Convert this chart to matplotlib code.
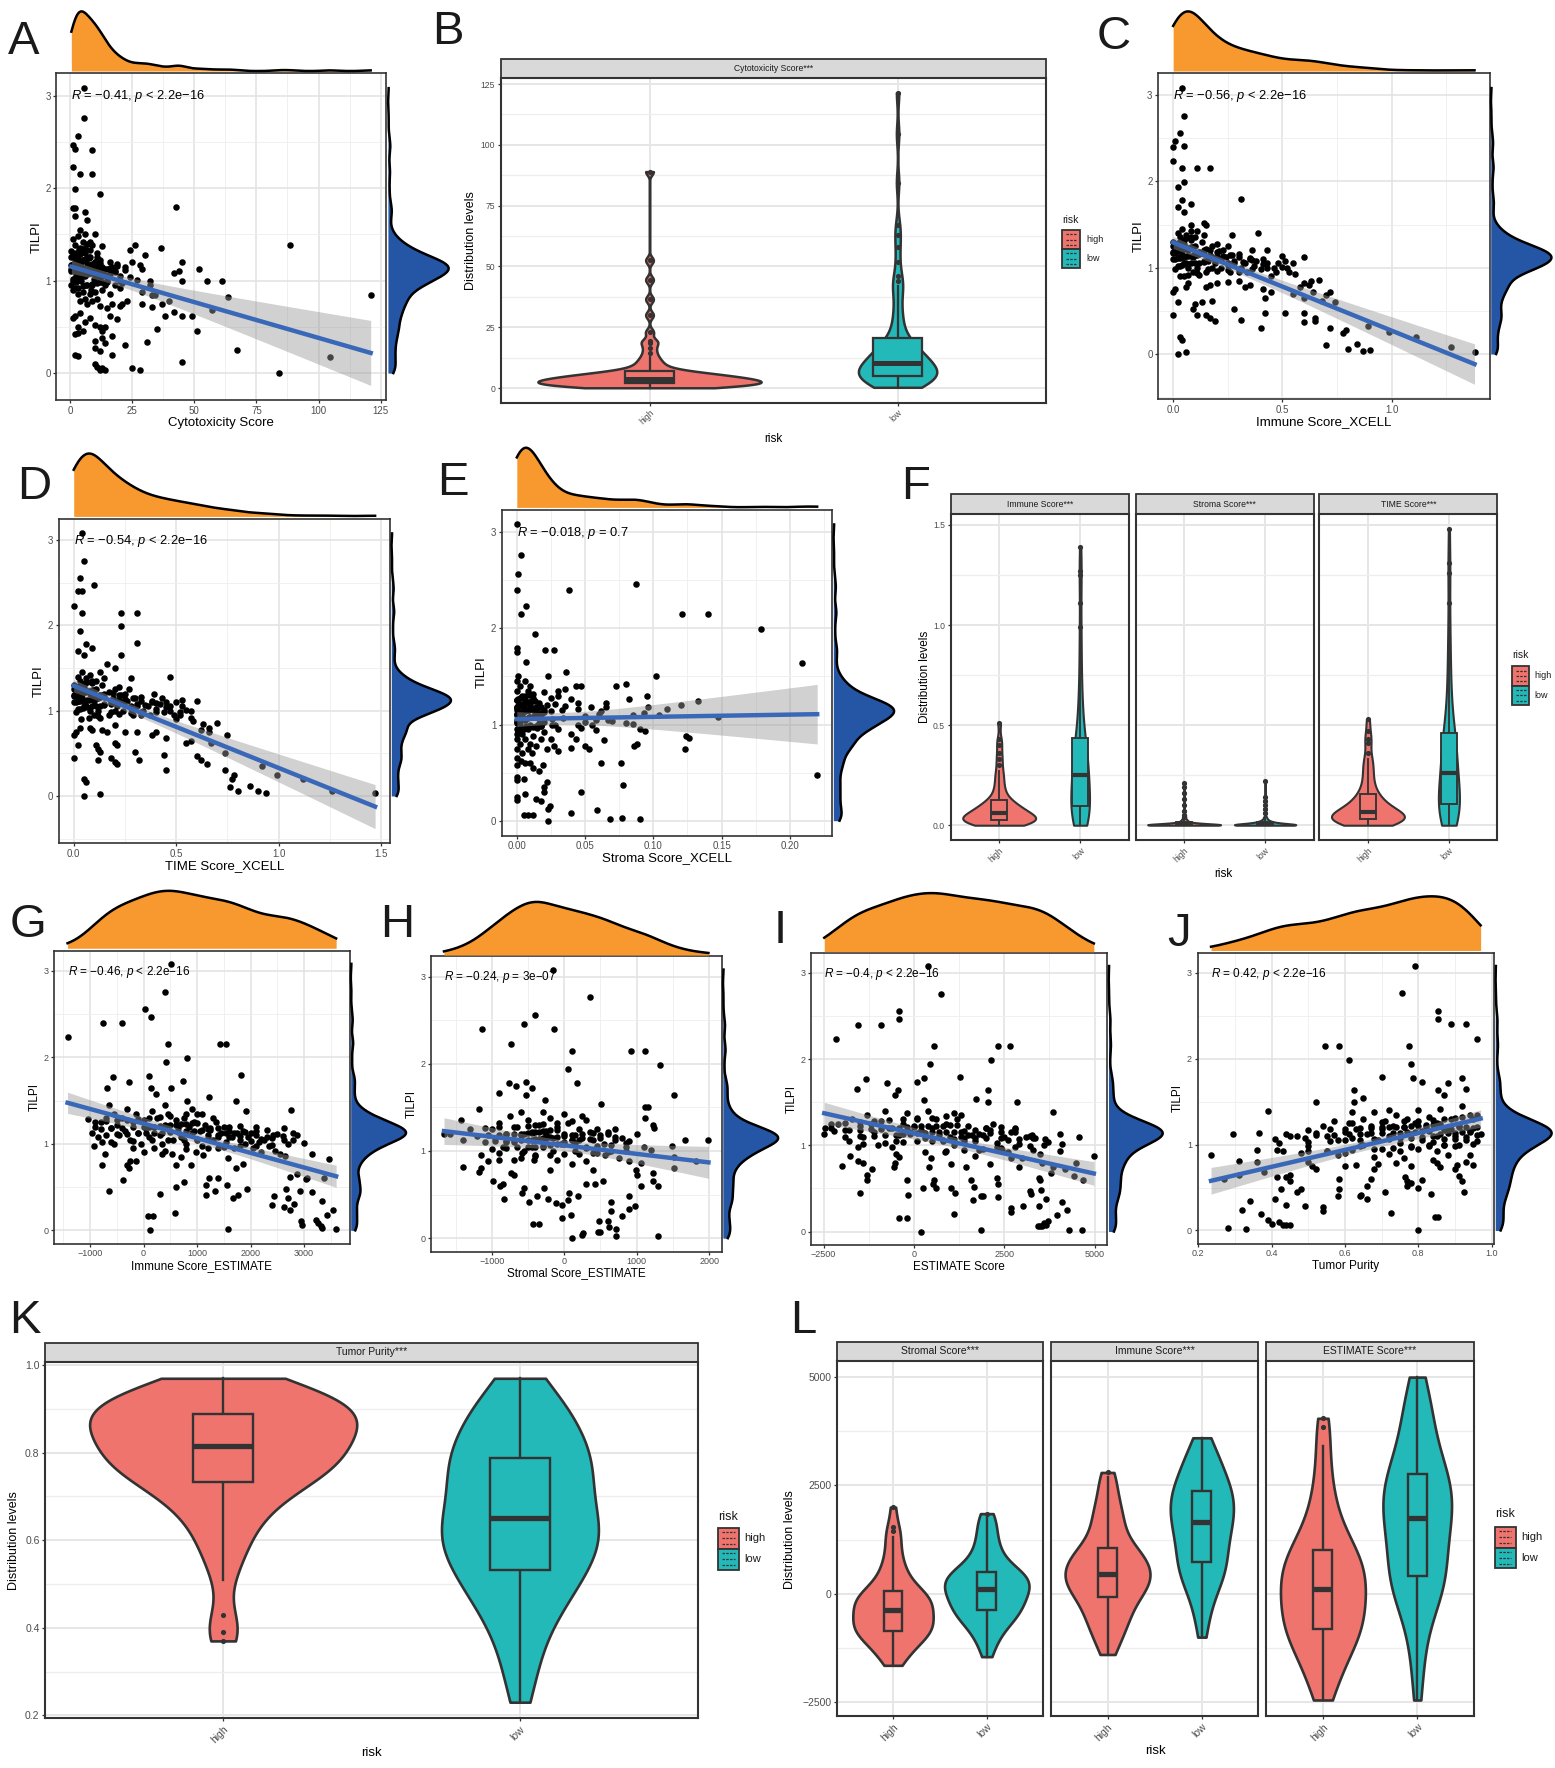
import numpy as np
import matplotlib.pyplot as plt
from matplotlib.patches import Rectangle

plt.rcParams['font.family'] = ['Liberation Sans', 'DejaVu Sans']
plt.rcParams['mathtext.fontset'] = 'custom'
plt.rcParams['mathtext.rm'] = 'Liberation Sans'
plt.rcParams['mathtext.it'] = 'Liberation Sans:italic'

# layout is measured in pixels on a 1379x1568 copy of the figure
W, H = 1379.0, 1568.0

HIGH_COL = '#F0746E'
LOW_COL = '#22B9B8'
ORANGE = '#F7992F'
BLUE = '#2456A5'
LINE_BLUE = '#3A68B8'
DARK = '#333333'
TICK_GREY = '#4D4D4D'

# ---------------- scatter data (x score, TILPI) ----------------
# points outside the dense cloud, read per panel
a_pts = [(5.5,3.08),(5.5,2.76),(3,2.56),(1,2.47),(2,2.42),(9,2.41),(1,2.23),(4,2.15),(9,2.15),(2,1.99),
         (12,1.94),(42.5,1.8),(1,1.78),(2,1.78),(6,1.74),(2,1.7),(7,1.65),(88.5,1.38),(121,0.84),(104.5,0.17),
         (84,0.0),(67,0.25),(63.5,0.82),(61,1.0),(55,1.0),(52,1.13),(57,0.68),(49,0.62),(51,0.45),(45,1.2),
         (44,1.1),(42,1.08),(45,1.0),(45,0.62),(42,0.66),(36.5,1.35),(30,1.28),(26,1.38),(24,1.33),(25,1.2),
         (28,1.17),(29,1.12),(32,1.0),(32,0.95),(29,0.88),(33,0.84),(34,0.84),(29,0.75),(33,0.71),(37,0.75),
         (38,0.62),(40,0.78),(35,0.48),(31,0.34),(45,0.12),(25,0.06),(28,0.03),(22,0.3),(17,0.2),(14,0.03),
         (12,0.03),(10,0.1),(11,0.07),(13,0.06),(3,0.18),(2,0.2),(2,0.42),(3,0.43),(3,0.5),(5,0.45),
         (6,0.55),(8,0.6),(10,0.52),(12,0.5),(13,0.45),(14,0.5),(13,0.38),(14,0.33),(10,0.35),(10,0.27),
         (12,0.24),(17,0.4),(19,0.58),(17,0.75),(21,0.75),(23,0.78),(20,0.72),(15,0.7),(1,0.6),(2,0.62),
         (4,0.65),(16,0.62),(14,0.95),(18,0.95),(20,0.92),(22,1.15),(19,1.18),(16,1.2),(17,1.13),(13,1.37),
         (10,1.5),(8,1.42),
         (0.5,1.25),(1,1.3),(1.5,1.15),(2,1.2),(2.5,1.05),(3,1.28),(3.5,1.1),(4,1.35),(4.5,1.0),(5,1.22),
         (5.5,1.12),(6,1.3),(6.5,0.95),(7,1.18),(7.5,1.08),(8,1.25),(8.5,0.9),(9,1.15),(9.5,1.02),(10,1.2),
         (11,1.1),(12,0.98),(13,1.15),(14,1.05),(1,1.0),(2,0.92),(3,0.85),(4,0.78),(5,0.88),(6,0.8),
         (7,0.75),(8,0.85),(9,0.78),(10,0.88),(11,0.8),(12,0.72),(1,1.45),(2,1.38),(3,1.48),(4,1.55),
         (5,1.42),(6,1.5),(7,1.4),(8,1.33),(9,1.38),(11,1.3),(1.5,1.1),(3,1.02),(4.5,1.16),(6,1.05),
         (7.5,1.25),(9,0.95),(10.5,1.05),(12,1.22),(0.5,0.95),(0.5,1.12),(2.5,0.98),(5,1.08),(8,1.12),(11,1.25),
         (13,0.9),(15,1.0),(16,0.85),(18,1.1),(20,1.05),(21,0.97)]

c_pts = [(0.04,3.08),(0.05,2.76),(0.03,2.56),(0.01,2.47),(0.0,2.4),(0.05,2.41),(0.0,2.23),(0.04,2.15),(0.11,2.15),(0.17,2.15),
         (0.05,1.99),(0.02,1.94),(0.31,1.8),(0.04,1.78),(0.08,1.74),(0.02,1.7),(0.05,1.65),(0.39,1.4),(0.27,1.38),(0.14,1.52),
         (0.15,1.5),(0.11,1.42),(0.08,1.5),(0.6,1.12),(0.5,1.13),(0.51,1.08),(0.43,1.2),(0.55,1.05),(0.46,1.0),(0.53,0.95),
         (0.56,0.93),(0.6,0.82),(0.63,0.85),(0.67,0.86),(0.62,0.8),(0.58,0.78),(0.64,0.72),(0.7,0.68),(0.72,0.72),(0.74,0.6),
         (0.68,0.62),(0.6,0.65),(0.55,0.7),(0.45,0.72),(0.42,0.65),(0.41,0.75),(0.35,0.8),(0.33,0.78),(0.3,0.85),(0.25,0.83),
         (0.2,0.82),(0.17,0.8),(0.15,0.78),(0.18,0.62),(0.13,0.6),(0.1,0.58),(0.09,0.52),(0.11,0.45),(0.15,0.45),(0.17,0.42),
         (0.19,0.38),(0.28,0.52),(0.31,0.4),(0.42,0.48),(0.51,0.48),(0.6,0.47),(0.6,0.37),(0.65,0.42),(0.65,0.38),(0.72,0.3),
         (0.4,0.3),(0.0,0.45),(0.02,0.6),(0.01,0.75),(0.0,0.72),(0.03,0.2),(0.04,0.16),(0.02,0.0),(0.06,0.02),(0.7,0.11),
         (0.78,0.24),(0.79,0.28),(0.8,0.06),(0.84,0.12),(0.87,0.03),(0.9,0.05),(0.89,0.33),(0.99,0.25),(1.11,0.2),(1.27,0.08),
         (1.38,0.02),(0.06,0.78),(0.07,0.82),(0.05,0.9),
         (0.0,1.3),(0.01,1.2),(0.02,1.25),(0.0,1.1),(0.03,1.35),(0.04,1.15),(0.05,1.28),(0.06,1.05),(0.07,1.2),(0.08,1.32),
         (0.09,1.12),(0.1,1.25),(0.11,1.0),(0.12,1.18),(0.13,1.3),(0.14,1.08),(0.15,1.22),(0.16,0.98),(0.17,1.15),(0.18,1.25),
         (0.19,1.05),(0.2,1.18),(0.21,1.1),(0.22,1.0),(0.23,1.2),(0.24,1.12),(0.25,1.05),(0.26,0.95),(0.27,1.15),(0.28,1.08),
         (0.3,1.12),(0.31,1.0),(0.33,1.05),(0.34,0.95),(0.35,1.1),(0.37,1.02),(0.38,1.08),(0.4,0.98),(0.41,1.1),(0.43,1.05),
         (0.45,0.9),(0.02,1.4),(0.04,1.45),(0.06,1.38),(0.08,1.42),(0.01,0.98),(0.03,1.02),(0.05,1.05),(0.09,0.95),(0.12,0.92),
         (0.14,1.38),(0.1,1.35),(0.2,1.28),(0.25,1.25),(0.0,1.18),(0.02,1.12),(0.07,1.0),(0.18,1.0),(0.3,0.95),(0.36,1.2),
         (0.48,1.05),(0.47,0.95),(0.52,1.0)]

d_pts = [(0.04,3.08),(0.05,2.76),(0.03,2.56),(0.1,2.47),(0.04,2.4),(0.02,2.4),(0.0,2.23),(0.04,2.15),(0.23,2.15),(0.31,2.15),
         (0.23,1.99),(0.03,1.94),(0.31,1.8),(0.06,1.78),(0.09,1.74),(0.02,1.7),(0.05,1.65),(0.23,1.65),(0.47,1.4),(0.28,1.38),
         (0.16,1.55),(0.2,1.5),(0.13,1.45),(0.6,1.12),(0.53,1.13),(0.5,1.1),(0.43,1.15),(0.57,0.92),(0.49,0.95),(0.52,0.98),
         (0.58,0.88),(0.63,0.85),(0.7,0.86),(0.66,0.8),(0.62,0.78),(0.66,0.75),(0.75,0.72),(0.67,0.62),(0.55,0.62),(0.57,0.65),
         (0.45,0.68),(0.4,0.75),(0.38,0.72),(0.31,0.75),(0.25,0.75),(0.2,0.83),(0.14,0.78),(0.16,0.75),(0.12,0.55),(0.11,0.6),
         (0.13,0.52),(0.18,0.45),(0.2,0.4),(0.21,0.38),(0.12,0.42),(0.2,0.62),(0.21,0.6),(0.3,0.52),(0.32,0.42),(0.44,0.48),
         (0.45,0.3),(0.6,0.47),(0.62,0.42),(0.65,0.38),(0.74,0.5),(0.74,0.3),(0.78,0.25),(0.77,0.2),(0.76,0.11),(0.8,0.06),
         (0.86,0.12),(0.9,0.06),(0.94,0.03),(0.92,0.35),(0.99,0.25),(1.12,0.2),(1.26,0.06),(1.47,0.03),(0.0,0.45),(0.02,0.6),
         (0.01,0.75),(0.0,0.72),(0.05,0.2),(0.06,0.16),(0.05,0.0),(0.13,0.02),(0.08,0.8),(0.09,0.78),(0.03,0.8),
         (0.0,1.3),(0.01,1.2),(0.02,1.25),(0.0,1.1),(0.03,1.35),(0.04,1.15),(0.05,1.28),(0.06,1.05),(0.08,1.2),(0.09,1.32),
         (0.1,1.12),(0.11,1.25),(0.12,1.0),(0.13,1.18),(0.14,1.3),(0.15,1.08),(0.17,1.22),(0.18,0.98),(0.19,1.15),(0.2,1.25),
         (0.21,1.05),(0.22,1.18),(0.23,1.1),(0.24,1.0),(0.25,1.2),(0.26,1.12),(0.28,1.05),(0.29,0.95),(0.3,1.15),(0.31,1.08),
         (0.33,1.12),(0.34,1.0),(0.36,1.05),(0.37,0.95),(0.38,1.1),(0.4,1.02),(0.42,1.08),(0.44,0.98),(0.45,1.1),(0.47,1.05),
         (0.5,0.9),(0.02,1.4),(0.04,1.45),(0.06,1.38),(0.08,1.42),(0.01,0.98),(0.03,1.02),(0.05,1.05),(0.1,0.95),(0.13,0.92),
         (0.15,1.38),(0.11,1.35),(0.22,1.28),(0.27,1.25),(0.0,1.18),(0.02,1.12),(0.08,1.0),(0.2,1.0),(0.33,0.95),(0.39,1.2),
         (0.53,1.05),(0.52,0.95),(0.57,1.0)]

e_pts = [(0.0,3.08),(0.003,2.76),(0.001,2.56),(0.0,2.4),(0.038,2.4),(0.087,2.46),(0.007,2.23),(0.003,2.15),(0.121,2.15),(0.14,2.15),
         (0.179,1.99),(0.013,1.94),(0.209,1.64),(0.22,0.48),(0.021,1.78),(0.027,1.78),(0.0,1.8),(0.0,1.75),(0.007,1.65),(0.023,1.5),
         (0.036,1.55),(0.102,1.5),(0.073,1.4),(0.08,1.42),(0.043,1.4),(0.047,1.4),(0.035,1.37),(0.095,1.3),(0.082,1.27),(0.133,1.24),
         (0.12,1.2),(0.11,1.16),(0.096,1.18),(0.065,1.22),(0.065,1.18),(0.054,1.18),(0.045,1.22),(0.04,1.27),(0.03,1.3),(0.025,1.28),
         (0.147,1.08),(0.104,1.1),(0.093,1.12),(0.085,1.1),(0.08,1.02),(0.067,1.05),(0.062,1.14),(0.058,1.05),(0.055,1.0),(0.05,1.03),
         (0.047,0.96),(0.04,0.9),(0.043,0.85),(0.04,0.76),(0.05,0.78),(0.053,0.75),(0.064,0.84),(0.058,0.94),(0.09,0.95),(0.094,0.93),
         (0.086,0.78),(0.088,0.8),(0.123,0.75),(0.124,0.88),(0.126,0.86),(0.062,0.6),(0.076,0.6),(0.078,0.37),(0.047,0.3),(0.04,0.08),
         (0.059,0.11),(0.068,0.02),(0.077,0.03),(0.09,0.02),(0.023,0.0),(0.023,0.12),(0.024,0.15),(0.018,0.2),(0.014,0.23),(0.005,0.06),
         (0.008,0.06),(0.012,0.06),(0.0,0.22),(0.0,0.25),(0.006,0.28),(0.02,0.3),(0.02,0.35),(0.022,0.4),(0.016,0.52),(0.019,0.58),
         (0.012,0.55),(0.01,0.6),(0.006,0.6),(0.0,0.45),(0.0,0.42),(0.005,0.43),(0.03,0.72),(0.027,0.78),(0.022,0.75),(0.025,0.85),
         (0.03,0.95),(0.028,1.0),(0.018,0.98),(0.015,0.96),
         (0.0,1.45),(0.0,1.35),(0.0,1.25),(0.0,1.15),(0.0,1.05),(0.0,0.95),(0.0,0.85),(0.0,0.75),(0.0,0.65),(0.0,0.58),
         (0.002,1.4),(0.002,1.2),(0.002,1.0),(0.002,0.8),(0.004,1.3),(0.004,1.1),(0.004,0.9),(0.004,0.7),(0.006,1.45),(0.006,1.25),
         (0.006,1.05),(0.006,0.85),(0.008,1.35),(0.008,1.15),(0.008,0.95),(0.008,0.75),(0.01,1.4),(0.01,1.2),(0.01,1.0),(0.01,0.8),
         (0.012,1.28),(0.012,1.08),(0.012,0.88),(0.014,1.18),(0.014,0.98),(0.014,0.78),(0.016,1.22),(0.016,1.02),(0.018,1.1),(0.018,0.85),
         (0.02,1.15),(0.02,0.92),(0.001,1.5),(0.001,1.1),(0.003,0.62),(0.005,1.18),(0.007,0.98),(0.009,1.08),(0.011,0.7),(0.013,1.12)]

g_pts = [(-1420,2.23),(-760,2.4),(-400,2.4),(20,2.56),(140,2.46),(510,3.08),(410,2.76),(450,2.15),(1420,2.15),(1550,2.15),
         (420,1.94),(820,1.99),(1830,1.79),(-570,1.77),(730,1.73),(110,1.78),(-270,1.72),(-680,1.65),(140,1.65),(520,1.64),
         (230,1.58),(1220,1.54),(810,1.5),(1720,1.5),(1910,1.38),(2750,1.39),(-1040,1.29),(-960,1.12),(-920,0.97),(-780,1.02),
         (-720,0.88),(-780,0.75),(-640,0.45),(-380,0.58),(-270,0.72),(-300,0.76),(-250,0.8),(-150,0.8),(300,0.42),(580,0.2),
         (610,0.5),(750,0.56),(90,0.17),(170,0.17),(120,0.0),(1580,0.02),(600,0.75),(540,0.88),(350,0.88),(880,0.75),
         (990,0.9),(1110,0.87),(1160,0.52),(1160,0.41),(1220,0.6),(1400,0.61),(1330,0.45),(1560,0.52),(1680,0.37),(1770,0.41),
         (1930,0.48),(1580,0.84),(1730,0.72),(1850,0.77),(2400,0.29),(2440,0.4),(2620,0.27),(2660,0.48),(2700,0.37),(2730,0.23),
         (2810,0.3),(2940,0.11),(2960,0.06),(2920,0.46),(3030,0.59),(3050,0.61),(3150,0.44),(3220,0.12),(3270,0.08),(3320,0.05),
         (3330,0.03),(3430,0.18),(3550,0.24),(3600,0.02),(3330,0.34),(3380,0.6),(3460,0.82),(3150,0.88),(2860,0.65),(2740,0.62),
         (2640,0.86),(2620,1.05),(2620,1.18),(2800,1.12),(2860,1.1),(2420,1.1),(2300,1.08),(2000,1.12),
         (-900,1.2),(-800,1.25),(-700,1.3),(-650,1.45),(-600,1.18),(-550,1.35),(-500,1.22),(-450,1.1),(-400,1.3),(-350,1.15),
         (-300,1.4),(-250,1.05),(-200,1.25),(-150,1.35),(-100,1.12),(-50,1.0),(0,1.28),(50,1.18),(100,1.08),(150,1.38),
         (200,1.2),(250,1.3),(300,1.1),(350,1.0),(400,1.22),(450,1.35),(500,1.15),(550,1.05),(600,1.28),(650,1.18),
         (700,1.08),(750,1.3),(800,1.0),(850,1.2),(900,1.12),(950,1.25),(1000,1.05),(1050,1.15),(1100,0.98),(1150,1.22),
         (1200,1.1),(1250,1.18),(1300,1.05),(1350,1.25),(1400,0.95),(1450,1.12),(1500,1.2),(1550,1.02),(1600,1.15),(1650,1.08),
         (1700,0.95),(1750,1.12),(1800,1.05),(1850,1.15),(1900,1.0),(1950,1.08),(2050,0.95),(2100,1.1),(2150,1.02),(2200,0.9),
         (2250,1.05),(2350,0.98),(2450,0.92),(2550,0.88),(-200,0.95),(200,0.95),(700,0.85),(1000,1.35),(1300,1.3),(-850,1.08),
         (-550,1.0),(400,1.45),(900,1.4)]

h_pts = [(-150,3.08),(360,2.76),(-400,2.56),(-550,2.46),(-1130,2.4),(-140,2.4),(-740,2.23),(110,2.15),(920,2.15),(1120,2.15),
         (1320,1.99),(50,1.94),(180,1.78),(-760,1.78),(-530,1.79),(-660,1.74),(-450,1.72),(-530,1.64),(-900,1.66),(-270,1.58),
         (1520,1.64),(510,1.54),(1120,1.5),(1150,1.5),(-1170,1.48),(-1660,1.2),(-1580,1.2),(-1420,1.35),(-1400,1.12),(-1400,0.82),
         (-1150,0.95),(-1050,0.88),(-1150,0.8),(-1170,0.76),(-980,0.66),(-880,0.6),(-840,0.62),(-830,0.45),(-700,0.72),(-740,0.75),
         (-550,0.58),(-590,0.52),(-380,0.48),(-480,0.42),(-430,0.16),(-350,0.16),(-280,0.57),(-220,0.45),(-110,0.4),(-30,0.38),
         (-30,0.23),(50,0.44),(70,0.52),(90,0.27),(110,0.0),(190,0.48),(250,0.04),(260,0.06),(460,0.07),(480,0.2),
         (500,0.07),(600,0.2),(620,0.13),(640,0.31),(640,0.41),(710,0.11),(720,0.02),(800,0.25),(890,0.48),(890,0.34),
         (970,0.37),(1290,0.03),(1060,0.6),(1220,0.66),(1300,0.6),(1220,0.75),(1060,0.86),(990,0.78),(1000,0.72),(1520,0.93),
         (1520,0.8),(1820,0.88),(1990,1.13),(1660,1.12),(1490,1.06),(1240,1.26),(1220,1.3),(1110,1.38),(1000,1.2),(560,0.95),
         (530,0.65),(430,0.62),(300,0.62),(390,0.78),(-200,0.78),(-420,0.9),(-580,0.98),
         (-1000,1.25),(-950,1.15),(-900,1.32),(-850,1.05),(-800,1.2),(-750,1.4),(-700,1.1),(-650,1.28),(-600,1.18),(-550,1.0),
         (-500,1.35),(-450,1.22),(-400,1.12),(-350,1.3),(-300,1.05),(-250,1.2),(-200,1.38),(-150,1.15),(-100,1.28),(-50,1.08),
         (0,1.2),(50,1.32),(100,1.12),(150,1.0),(200,1.25),(250,1.15),(300,1.05),(350,1.22),(400,1.12),(450,0.98),
         (500,1.18),(550,1.08),(600,1.22),(650,1.0),(700,1.12),(750,0.92),(800,1.15),(850,1.05),(900,0.88),(-900,0.98),
         (-700,0.9),(-400,0.95),(-100,0.9),(100,0.85),(300,0.88),(-600,1.45),(-300,1.45),(0,1.42),(250,1.4),(-800,1.1),
         (-450,1.05),(-150,1.0),(150,1.18),(450,1.25),(700,1.25)]

i_pts = [(400,3.08),(760,2.76),(-420,2.56),(-420,2.46),(-1540,2.4),(-900,2.4),(-2160,2.23),(550,2.15),(2340,2.15),(2650,2.15),
         (2140,1.99),(450,1.94),(1280,1.79),(-1330,1.77),(280,1.78),(80,1.73),(-730,1.72),(-1560,1.65),(-430,1.64),(-520,1.58),
         (2050,1.64),(1720,1.54),(2060,1.5),(2850,1.5),(280,1.53),(3840,1.39),(-2480,1.13),(-2470,1.2),(-2000,0.76),(-1760,0.88),
         (-1550,0.98),(-1550,0.82),(-1400,0.8),(-1300,0.66),(-1300,0.6),(-1170,0.72),(-1500,0.45),(-400,0.87),(-520,0.8),(-550,0.75),
         (-200,0.6),(-160,0.42),(-400,0.16),(-200,0.16),(200,0.0),(240,0.5),(420,0.75),(480,0.85),(530,0.55),(570,0.6),
         (600,0.5),(1040,0.5),(1100,0.2),(1150,0.45),(850,0.92),(1020,0.78),(1430,0.75),(1580,0.6),(1650,0.52),(1640,0.37),
         (1850,0.41),(1920,0.41),(1850,0.02),(2340,0.55),(2340,0.4),(2300,0.62),(2680,0.27),(2680,0.23),(3030,0.3),(3210,0.47),
         (3250,0.43),(3460,0.3),(3430,0.06),(3500,0.06),(3550,0.06),(3600,0.1),(3650,0.08),(3700,0.12),(3950,0.19),(4100,0.34),
         (4250,0.25),(4300,0.02),(4640,0.02),(3650,0.38),(3520,0.48),(3450,0.62),(3480,0.6),(3800,0.68),(3540,0.8),(3860,0.75),
         (4180,0.72),(4430,0.65),(4680,0.6),(4980,0.88),(4480,0.8),(4050,0.93),(4560,1.1),(4030,1.13),(3630,1.07),(3360,1.08),
         (3260,1.12),(2900,0.75),(2700,0.85),(2450,0.95),(2100,0.78),
         (-2300,1.2),(-2100,1.25),(-1900,1.18),(-1700,1.3),(-1500,1.22),(-1300,1.35),(-1100,1.15),(-900,1.28),(-700,1.2),(-500,1.05),
         (-300,1.25),(-100,1.15),(100,1.32),(300,1.08),(500,1.2),(700,1.12),(900,1.25),(1100,1.0),(1300,1.15),(1500,1.22),
         (1700,1.05),(1900,1.12),(2100,1.18),(2300,0.98),(2500,1.1),(2700,1.15),(2900,1.02),(3100,1.1),(3300,0.95),(3500,0.9),
         (-1800,1.05),(-1400,1.1),(-1000,1.0),(-600,0.98),(-200,1.38),(200,1.18),(600,1.3),(1000,1.1),(1400,1.05),(1800,0.95),
         (2200,1.25),(2600,0.92),(-800,1.4),(0,1.22),(400,1.4),(800,1.05),(1200,1.3),(1600,1.12),(2000,1.2),(2400,1.08),
         (2800,1.2),(3000,0.85),(-1200,1.25),(-400,1.12),(1100,1.38),(1700,0.88)]

j_pts = [(0.79,3.08),(0.755,2.76),(0.855,2.56),(0.855,2.46),(0.89,2.4),(0.93,2.4),(0.96,2.23),(0.545,2.15),(0.585,2.15),(0.775,2.15),
         (0.78,1.94),(0.61,1.99),(0.7,1.79),(0.785,1.78),(0.81,1.73),(0.88,1.72),(0.92,1.77),(0.625,1.64),(0.855,1.64),(0.93,1.65),
         (0.87,1.58),(0.52,1.5),(0.625,1.5),(0.65,1.54),(0.39,1.39),(0.235,0.88),(0.27,0.6),(0.28,0.03),(0.33,0.02),(0.32,0.24),
         (0.34,0.34),(0.37,0.19),(0.39,0.12),(0.4,0.08),(0.41,0.37),(0.42,0.1),(0.43,0.06),(0.44,0.06),(0.45,0.06),(0.44,0.3),
         (0.49,0.29),(0.54,0.27),(0.54,0.23),(0.295,1.12),(0.31,0.81),(0.31,0.65),(0.36,0.94),(0.36,0.8),(0.365,1.14),(0.38,0.68),
         (0.415,0.62),(0.415,0.94),(0.43,0.92),(0.425,0.48),(0.44,0.62),(0.45,0.58),(0.45,0.65),(0.47,0.45),(0.48,0.48),(0.5,0.92),
         (0.51,0.75),(0.52,0.72),(0.5,0.8),(0.58,0.4),(0.585,0.48),(0.585,0.6),(0.6,0.75),(0.63,0.76),(0.64,0.4),(0.645,0.41),
         (0.66,0.52),(0.66,0.37),(0.67,0.6),(0.68,0.72),(0.69,0.77),(0.71,0.45),(0.725,0.2),(0.72,0.89),(0.74,0.78),(0.76,0.84),
         (0.765,0.62),(0.77,0.58),(0.77,0.52),(0.78,0.55),(0.78,0.75),(0.8,0.5),(0.8,0.0),(0.81,0.59),(0.835,0.42),(0.845,0.16),
         (0.855,0.16),(0.84,0.82),(0.85,0.78),(0.86,0.74),(0.9,0.72),(0.91,0.64),(0.92,0.58),(0.925,0.45),(0.93,0.8),(0.94,0.88),
         (0.95,0.76),(0.905,0.76),
         (0.41,1.06),(0.44,1.12),(0.47,1.1),(0.49,1.08),(0.52,1.13),(0.54,1.22),(0.55,1.1),(0.57,1.28),(0.58,1.05),(0.6,1.15),
         (0.61,1.25),(0.62,1.08),(0.63,1.18),(0.64,0.98),(0.65,1.3),(0.66,1.12),(0.67,1.22),(0.68,1.38),(0.69,1.05),(0.7,1.18),
         (0.71,1.28),(0.72,1.1),(0.73,1.22),(0.74,1.35),(0.75,1.02),(0.76,1.2),(0.77,1.3),(0.78,1.12),(0.79,1.25),(0.8,1.4),
         (0.81,1.05),(0.82,1.2),(0.83,1.32),(0.84,1.1),(0.85,1.25),(0.86,1.42),(0.87,1.0),(0.88,1.18),(0.89,1.3),(0.9,1.1),
         (0.91,1.22),(0.92,1.45),(0.93,1.05),(0.94,1.15),(0.95,1.3),(0.96,1.2),(0.97,1.12),(0.5,0.98),(0.55,0.92),(0.6,0.9),
         (0.65,1.0),(0.7,0.95),(0.75,0.92),(0.8,0.95),(0.85,0.92),(0.9,0.98),(0.62,1.38),(0.72,1.4),(0.83,1.0),(0.88,0.88),
         (0.78,0.98),(0.68,0.85),(0.58,0.88)]

# the dense middle of every cloud: one TILPI list, one x list per score
core_tilpi = [1.25,1.26,1.27,1.28,1.29,1.3,1.31,1.32,1.34,1.35,
              1.17,1.18,1.18,1.19,1.19,1.2,1.2,1.21,1.21,1.22,1.22,1.23,1.23,1.24,1.24,1.17,1.18,1.2,1.21,1.19,
              1.1,1.11,1.11,1.12,1.12,1.13,1.13,1.14,1.14,1.15,1.15,1.16,1.16,1.1,1.12,1.13,1.14,1.15,1.16,1.11,
              1.02,1.03,1.04,1.05,1.05,1.06,1.07,1.08,1.08,1.09,1.03,1.06,1.07,1.09,1.04,
              0.9,0.92,0.94,0.95,0.96,0.97,0.98,0.99,1.0,1.01]
a_core_x = [1,2,3,1.5,4,2.5,5,0.5,3.5,6,
            0.5,1,1.5,2,2.5,3,3.5,4,4.5,5,5.5,6,6.5,7,7.5,8,9,10,11,12,
            0.5,1,2,3,4,5,6,7,8,9,10,11,12,13,14,15,16,17,19,22,
            1,2,3,4,5,6,7,8,9,10,12,14,16,18,24,
            1,3,5,7,9,11,13,15,20,27]
c_core_x = [0.0,0.005,0.01,0.015,0.02,0.03,0.04,0.05,0.06,0.08,
            0.0,0.005,0.01,0.015,0.02,0.025,0.03,0.035,0.04,0.045,0.05,0.06,0.07,0.08,0.09,0.1,0.12,0.14,0.17,0.21,
            0.01,0.02,0.03,0.04,0.05,0.06,0.07,0.08,0.09,0.1,0.11,0.12,0.14,0.16,0.18,0.2,0.23,0.26,0.3,0.35,
            0.02,0.04,0.06,0.08,0.1,0.12,0.14,0.16,0.19,0.22,0.25,0.28,0.32,0.36,0.41,
            0.03,0.07,0.11,0.15,0.2,0.25,0.3,0.36,0.43,0.5]
d_core_x = [0.0,0.005,0.01,0.02,0.025,0.035,0.045,0.055,0.065,0.09,
            0.0,0.005,0.01,0.015,0.02,0.03,0.035,0.04,0.045,0.05,0.055,0.065,0.075,0.09,0.1,0.11,0.13,0.15,0.19,0.23,
            0.01,0.02,0.03,0.045,0.055,0.065,0.075,0.09,0.1,0.11,0.12,0.13,0.15,0.18,0.2,0.22,0.25,0.29,0.33,0.38,
            0.02,0.045,0.065,0.09,0.11,0.13,0.15,0.18,0.21,0.24,0.28,0.31,0.35,0.4,0.45,
            0.035,0.075,0.12,0.17,0.22,0.28,0.33,0.4,0.47,0.55]
e_core_x = [0.0,0.0,0.001,0.002,0.004,0.006,0.009,0.012,0.02,0.03,
            0.0,0.0,0.0,0.001,0.001,0.002,0.003,0.004,0.005,0.006,0.007,0.008,0.01,0.011,0.013,0.015,0.018,0.022,0.028,0.035,
            0.0,0.0,0.0,0.001,0.002,0.003,0.004,0.005,0.006,0.008,0.009,0.011,0.012,0.014,0.017,0.02,0.025,0.033,0.045,0.06,
            0.0,0.0,0.001,0.002,0.004,0.006,0.008,0.01,0.013,0.016,0.02,0.026,0.034,0.05,0.07,
            0.0,0.001,0.003,0.005,0.008,0.012,0.018,0.026,0.045,0.085]
g_core_x = [-900,-700,-500,-300,-100,100,300,500,800,1100,
            -800,-600,-400,-200,0,100,200,300,400,500,600,700,800,900,1000,1200,1400,1600,1800,2100,
            -700,-500,-300,-100,50,200,350,500,650,800,950,1100,1250,1400,1550,1700,1900,2100,2300,2500,
            -600,-200,150,450,750,1000,1200,1400,1600,1800,2000,2200,2400,2600,2800,
            0,400,800,1200,1500,1800,2100,2400,2700,3000]
h_core_x = [-1300,-1100,-900,-700,-500,-400,-300,-100,100,300,
            -1200,-1050,-900,-800,-700,-600,-550,-500,-450,-400,-350,-300,-250,-200,-100,0,100,250,400,600,
            -1100,-950,-800,-700,-600,-500,-450,-400,-350,-300,-250,-200,-100,0,100,200,350,500,700,900,
            -1000,-800,-650,-500,-400,-300,-200,-100,0,150,300,450,650,850,1100,
            -900,-600,-400,-200,0,200,400,600,850,1200]
i_core_x = [-2300,-1900,-1500,-1100,-700,-300,100,500,900,1300,
            -2200,-1800,-1500,-1200,-900,-600,-400,-200,0,200,400,600,800,1000,1200,1400,1700,2000,2400,2800,
            -1900,-1500,-1100,-800,-500,-300,-100,100,300,500,700,900,1100,1300,1500,1800,2100,2400,2800,3200,
            -1400,-800,-300,100,500,800,1100,1400,1700,2000,2300,2600,2900,3300,3700,
            -500,300,900,1400,1900,2400,2800,3200,3600,4100]
j_core_x = [0.62,0.7,0.76,0.8,0.84,0.87,0.9,0.92,0.94,0.96,
            0.5,0.56,0.6,0.64,0.67,0.7,0.72,0.74,0.76,0.78,0.8,0.82,0.84,0.85,0.86,0.87,0.89,0.91,0.93,0.95,
            0.45,0.52,0.57,0.61,0.64,0.67,0.7,0.73,0.75,0.77,0.79,0.81,0.83,0.85,0.86,0.88,0.9,0.92,0.94,0.96,
            0.42,0.5,0.56,0.6,0.64,0.68,0.72,0.75,0.78,0.81,0.84,0.87,0.9,0.93,0.96,
            0.48,0.55,0.62,0.68,0.73,0.78,0.83,0.87,0.91,0.95]

# ---------------- violin data (per risk group) ----------------
b_high = [0.1,0.2,0.3,0.4,0.5,0.6,0.7,0.8,0.9,1.0,1.1,1.2,1.3,1.5,1.6,1.8,1.9,
          2.0,2.1,2.2,2.3,2.4,2.5,2.6,2.7,2.8,2.9,3.0,3.1,3.3,3.4,3.5,3.7,3.8,
          3.9,4.0,4.1,4.3,4.4,4.6,4.7,4.9,5.0,5.2,5.4,5.6,5.8,6.0,6.2,6.3,6.5,
          6.9,7.4,8.0,8.7,9.5,10.5,11.5,12.8,14.5,16.5,18.5,19.5,23.0,30.0,36.5,44.5,52.5,89.0]
b_low = [0.3,0.6,0.9,1.2,1.5,1.8,2.1,2.4,2.7,3.0,3.3,3.6,3.9,4.1,4.3,4.6,4.8,
         5.0,5.3,5.6,5.9,6.2,6.5,6.8,7.1,7.4,7.7,8.0,8.3,8.6,8.9,9.2,9.5,9.8,
         10.0,10.5,11.0,11.5,12.0,12.5,13.0,13.5,14.0,14.5,15.0,15.5,16.0,16.5,17.0,17.5,18.5,
         19.5,21.0,23.0,25.0,27.5,30.0,33.0,36.5,40.5,42.0,44.0,46.0,52.0,58.0,63.0,67.0,84.5,104.5,121.5]

f_imm_high = [0.0,0.002,0.004,0.006,0.008,0.01,0.012,0.014,0.015,0.017,0.018,0.02,0.021,0.023,0.024,
              0.026,0.028,0.03,0.032,0.034,0.036,0.038,0.04,0.042,0.045,0.048,0.05,0.053,0.056,0.059,
              0.062,0.065,0.068,0.072,0.075,0.078,0.082,0.086,0.09,0.094,0.098,0.103,0.108,0.113,0.118,
              0.125,0.135,0.145,0.16,0.175,0.19,0.21,0.23,0.25,0.27,0.3,0.33,0.36,0.4,0.43,0.51]
f_imm_low = [0.0,0.005,0.01,0.015,0.02,0.025,0.03,0.035,0.04,0.045,0.05,0.06,0.07,0.08,0.085,
             0.095,0.105,0.115,0.125,0.135,0.145,0.155,0.165,0.175,0.185,0.195,0.205,0.215,0.225,0.235,
             0.245,0.255,0.265,0.28,0.29,0.3,0.31,0.32,0.335,0.345,0.355,0.37,0.38,0.395,0.405,
             0.42,0.44,0.46,0.49,0.52,0.55,0.59,0.63,0.68,0.74,0.82,0.9,0.99,1.11,1.25,1.27,1.39]
f_str_high = [0,0,0,0,0,0,0,0,0,0,0,0,0.0005,0.001,0.001,0.0015,0.002,0.002,0.0025,0.003,0.003,0.0035,
              0.004,0.004,0.005,0.005,0.006,0.006,0.007,0.008,0.009,0.01,0.012,0.014,0.016,0.02,0.025,
              0.03,0.04,0.05,0.07,0.1,0.13,0.16,0.19,0.21]
f_str_low = [0,0,0,0,0,0,0,0,0,0,0.0005,0.001,0.001,0.0015,0.002,0.002,0.003,0.003,0.004,0.004,0.005,
             0.006,0.007,0.008,0.009,0.01,0.011,0.013,0.015,0.017,0.02,0.024,0.03,0.04,0.06,0.08,0.1,
             0.12,0.14,0.22]
f_time_high = [0.0,0.003,0.006,0.009,0.011,0.013,0.015,0.017,0.019,0.021,0.023,0.025,0.026,0.028,0.029,
               0.032,0.034,0.036,0.038,0.04,0.042,0.044,0.047,0.05,0.052,0.055,0.057,0.059,0.062,0.064,
               0.068,0.072,0.076,0.08,0.085,0.09,0.095,0.1,0.105,0.11,0.116,0.122,0.13,0.138,0.146,
               0.155,0.165,0.18,0.195,0.21,0.23,0.25,0.27,0.29,0.31,0.33,0.36,0.41,0.43,0.47,0.53]
f_time_low = [0.0,0.006,0.012,0.018,0.024,0.03,0.037,0.044,0.05,0.057,0.064,0.071,0.078,0.086,0.094,
              0.105,0.115,0.125,0.135,0.145,0.155,0.165,0.175,0.185,0.195,0.205,0.215,0.225,0.235,0.245,
              0.26,0.275,0.29,0.3,0.315,0.33,0.345,0.36,0.375,0.385,0.4,0.41,0.42,0.435,0.445,
              0.46,0.48,0.51,0.54,0.57,0.61,0.65,0.7,0.76,0.83,0.9,0.99,1.11,1.26,1.31,1.48]

k_high = [0.37,0.39,0.43,0.51,0.55,0.58,0.6,0.62,0.64,0.655,0.67,0.68,0.69,0.7,0.71,0.72,0.725,
          0.735,0.74,0.745,0.75,0.755,0.76,0.765,0.77,0.775,0.78,0.785,0.79,0.795,0.8,0.805,0.81,0.813,
          0.818,0.822,0.827,0.832,0.837,0.842,0.847,0.852,0.856,0.86,0.864,0.868,0.872,0.876,0.88,0.884,0.888,
          0.892,0.896,0.9,0.904,0.908,0.912,0.917,0.922,0.927,0.932,0.937,0.942,0.947,0.952,0.958,0.964,0.97]
k_low = [0.23,0.27,0.31,0.34,0.37,0.39,0.41,0.43,0.445,0.46,0.47,0.48,0.49,0.5,0.51,0.52,0.525,
         0.535,0.545,0.555,0.565,0.57,0.58,0.585,0.59,0.6,0.605,0.61,0.615,0.62,0.63,0.635,0.64,0.645,
         0.655,0.665,0.675,0.685,0.69,0.7,0.71,0.72,0.73,0.74,0.745,0.755,0.76,0.77,0.775,0.78,0.787,
         0.795,0.8,0.81,0.82,0.83,0.84,0.85,0.86,0.87,0.88,0.89,0.9,0.91,0.925,0.94,0.955,0.97]

l_str_high = [-1650,-1550,-1450,-1380,-1300,-1240,-1180,-1130,-1080,-1040,-1000,-960,-930,-905,-885,
              -860,-830,-800,-770,-740,-710,-680,-650,-620,-590,-560,-530,-490,-450,-420,
              -380,-350,-320,-290,-260,-230,-200,-170,-140,-110,-80,-50,-20,0,25,
              60,110,170,240,320,400,480,570,680,800,950,1120,1300,1450,1550,2000]
l_str_low = [-1450,-1250,-1100,-1000,-900,-820,-750,-690,-640,-590,-550,-510,-470,-440,-410,
             -370,-330,-300,-260,-230,-190,-160,-120,-90,-50,-20,10,40,70,95,
             120,150,180,210,240,270,300,330,360,390,410,430,450,470,495,
             530,580,640,700,770,850,930,1020,1120,1230,1350,1480,1620,1750,1850]
l_imm_high = [-1400,-1250,-1100,-980,-870,-780,-700,-620,-550,-480,-420,-350,-280,-200,-130,
              -70,-30,10,50,90,130,170,210,250,290,330,360,390,420,440,
              480,520,560,600,640,680,720,760,800,840,880,920,960,1000,1040,
              1100,1200,1300,1400,1500,1600,1700,1800,1900,2000,2150,2300,2500,2700,2800]
l_imm_low = [-1000,-700,-450,-250,-100,50,150,250,330,400,460,520,580,630,680,
             750,820,890,960,1030,1100,1170,1240,1300,1360,1420,1480,1540,1590,1630,
             1690,1740,1790,1840,1890,1940,1990,2040,2090,2140,2190,2240,2290,2330,2370,
             2420,2480,2540,2600,2670,2740,2810,2890,2970,3060,3150,3250,3350,3470,3600]
l_est_high = [-2450,-2300,-2100,-1900,-1750,-1620,-1500,-1400,-1300,-1210,-1130,-1060,-990,-930,-870,
              -800,-740,-680,-620,-560,-500,-430,-370,-300,-240,-170,-110,-40,20,80,
              140,200,260,320,380,440,500,560,620,680,740,800,860,920,980,
              1060,1150,1250,1350,1480,1620,1780,1950,2150,2400,2700,3000,3400,3850,4050]
l_est_low = [-2450,-1900,-1450,-1100,-800,-560,-370,-220,-90,20,110,190,250,300,340,
             420,520,620,720,820,920,1020,1120,1220,1320,1410,1500,1580,1650,1720,
             1790,1860,1930,2000,2070,2140,2210,2280,2350,2420,2490,2560,2620,2680,2740,
             2820,2920,3030,3150,3280,3420,3570,3720,3880,4050,4220,4400,4580,4780,5000]


fig = plt.figure(figsize=(15.55, 17.68), dpi=100)
ov = fig.add_axes([0, 0, 1, 1])
ov.set_xlim(0, W)
ov.set_ylim(H, 0)
ov.axis('off')


def box(x0, y0, x1, y1):
    return fig.add_axes([x0 / W, 1 - y1 / H, (x1 - x0) / W, (y1 - y0) / H])


def nrd0(v):
    sd = v.std(ddof=1)
    q75, q25 = np.percentile(v, [75, 25])
    lo = min(sd, (q75 - q25) / 1.34)
    if lo <= 0:
        lo = sd if sd > 0 else 1.0
    return 0.9 * lo * len(v) ** -0.2


def kde(v, grid):
    bw = nrd0(v)
    z = (grid[:, None] - v[None, :]) / bw
    return np.exp(-0.5 * z ** 2).sum(axis=1) / (len(v) * bw * np.sqrt(2 * np.pi))


def style_spines(ax, lw):
    for sp in ax.spines.values():
        sp.set_color(DARK)
        sp.set_linewidth(lw)


def scatter_panel(pts, core_x, main, top_y, right_x, xt, xtl, xlabel, note, tfs, lfs, nfs):
    pts = np.array(list(pts) + list(zip(core_x, core_tilpi)), float)
    x, y = pts[:, 0], pts[:, 1]
    ax = box(*main)
    b, a = np.polyfit(x, y, 1)
    xs = np.linspace(x.min(), x.max(), 120)
    yh = a + b * xs
    n = len(x)
    s = np.sqrt(((y - a - b * x) ** 2).sum() / (n - 2))
    se = s * np.sqrt(1.0 / n + (xs - x.mean()) ** 2 / ((x - x.mean()) ** 2).sum())
    lo_b, hi_b = yh - 1.97 * se, yh + 1.97 * se
    xr = x.max() - x.min()
    xlim = (x.min() - 0.05 * xr, x.max() + 0.05 * xr)
    ylo, yhi = min(y.min(), lo_b.min()), max(y.max(), hi_b.max())
    yr = yhi - ylo
    ylim = (ylo - 0.05 * yr, yhi + 0.05 * yr)

    ax.scatter(x, y, s=22, color='black', lw=0, zorder=3)
    ax.fill_between(xs, lo_b, hi_b, color='#999999', alpha=0.45, lw=0, zorder=4)
    ax.plot(xs, yh, color=LINE_BLUE, lw=3.2, zorder=5)
    ax.text(x.min(), 2.99, note, fontsize=nfs, ha='left', va='center', zorder=6)
    ax.set_xlim(xlim)
    ax.set_ylim(ylim)
    ax.set_xticks(xt)
    ax.set_xticklabels(xtl)
    ax.set_yticks([0, 1, 2, 3])
    step = xt[1] - xt[0]
    mx = [t - step / 2 for t in xt] + [xt[-1] + step / 2]
    ax.set_xticks([m for m in mx if xlim[0] < m < xlim[1]], minor=True)
    ax.set_yticks([m for m in (-0.5, 0.5, 1.5, 2.5) if ylim[0] < m < ylim[1]], minor=True)
    ax.set_axisbelow(True)
    ax.grid(True, which='major', color='#E2E2E2', lw=1.1)
    ax.grid(True, which='minor', color='#EEEEEE', lw=0.6)
    ax.tick_params(which='major', length=2.5, width=0.9, color=DARK, labelsize=tfs,
                   labelcolor=TICK_GREY, pad=1.5)
    ax.tick_params(which='minor', length=0)
    style_spines(ax, 1.2)
    ax.set_xlabel(xlabel, fontsize=lfs, labelpad=1)
    ax.set_ylabel('TILPI', fontsize=lfs, labelpad=2)

    # marginal densities
    axt = box(main[0], top_y[0], main[2], top_y[1])
    gx = np.linspace(x.min(), x.max(), 400)
    dx = kde(x, gx)
    axt.fill_between(gx, 0, dx, color=ORANGE, lw=0)
    axt.plot(gx, dx, color='black', lw=1.8, clip_on=False)
    axt.set_xlim(xlim)
    axt.set_ylim(0, dx.max() * 1.04)
    axt.axis('off')

    axr = box(right_x[0], main[1], right_x[1], main[3])
    gy = np.linspace(y.min(), y.max(), 400)
    dy = kde(y, gy)
    axr.fill_betweenx(gy, 0, dy, color=BLUE, lw=0)
    axr.plot(dy, gy, color='black', lw=1.8, clip_on=False)
    axr.set_ylim(ylim)
    axr.set_xlim(0, dy.max() * 1.04)
    axr.axis('off')


def violin_panel(facets, names, xs_px, y_px, strip_y, yt, ytl, tfs, sfs, elw):
    allv = np.concatenate([np.concatenate(f) for f in facets])
    r = allv.max() - allv.min()
    ylim = (allv.min() - 0.05 * r, allv.max() + 0.05 * r)
    ym = [(yt[k] + yt[k + 1]) / 2 for k in range(len(yt) - 1)]
    ym = [yt[0] - (yt[1] - yt[0]) / 2] + ym + [yt[-1] + (yt[1] - yt[0]) / 2]
    for k, (groups, name, (x0, x1)) in enumerate(zip(facets, names, xs_px)):
        ax = box(x0, y_px[0], x1, y_px[1])
        groups = [np.array(g, float) for g in groups]
        dens = []
        for v in groups:
            g = np.linspace(v.min(), v.max(), 512)
            dens.append((g, kde(v, g)))
        peak = max(d.max() for _, d in dens)
        for i, (v, (g, d), col) in enumerate(zip(groups, dens, (HIGH_COL, LOW_COL))):
            w = 0.45 * d / peak
            ax.fill_betweenx(g, i - w, i + w, facecolor=col, edgecolor=DARK, lw=elw, zorder=2)
            q1, med, q3 = np.percentile(v, [25, 50, 75])
            iqr = q3 - q1
            keep = (v >= q1 - 1.5 * iqr) & (v <= q3 + 1.5 * iqr)
            inside, out = v[keep], v[~keep]
            ax.plot([i, i], [inside.min(), q1], color=DARK, lw=elw * 0.9, zorder=3)
            ax.plot([i, i], [q3, inside.max()], color=DARK, lw=elw * 0.9, zorder=3)
            ax.add_patch(Rectangle((i - 0.1, q1), 0.2, iqr, facecolor=col, edgecolor=DARK,
                                   lw=elw * 0.9, zorder=3))
            ax.plot([i - 0.1, i + 0.1], [med, med], color=DARK, lw=elw * 2, zorder=4,
                    solid_capstyle='butt')
            ax.scatter(np.full(len(out), float(i)), out, s=14, color=DARK, lw=0, zorder=4)
        ax.set_xlim(-0.6, 1.6)
        ax.set_ylim(ylim)
        ax.set_xticks([0, 1])
        ax.set_xticklabels(['high', 'low'], rotation=45, ha='right', va='top',
                           rotation_mode='anchor')
        ax.set_yticks(yt)
        ax.set_yticks([m for m in ym if ylim[0] < m < ylim[1]], minor=True)
        if k == 0:
            ax.set_yticklabels(ytl)
            ax.tick_params(axis='y', which='major', length=2.5, width=0.9, color=DARK)
        else:
            ax.set_yticklabels([])
            ax.tick_params(axis='y', which='major', length=0)
        ax.tick_params(axis='x', which='major', length=2.5, width=0.9, color=DARK)
        ax.tick_params(which='major', labelsize=tfs, labelcolor=TICK_GREY, pad=1.5)
        ax.tick_params(which='minor', length=0)
        ax.set_axisbelow(True)
        ax.grid(True, which='major', color='#E6E6E6', lw=1.4)
        ax.grid(True, which='minor', axis='y', color='#EEEEEE', lw=0.9)
        style_spines(ax, 1.5)
        ov.add_patch(Rectangle((x0, strip_y[0]), x1 - x0, strip_y[1] - strip_y[0],
                               facecolor='#D9D9D9', edgecolor=DARK, lw=1.3))
        ov.text((x0 + x1) / 2, (strip_y[0] + strip_y[1]) / 2, name, fontsize=sfs,
                ha='center', va='center', color='#1A1A1A')


def legend(x, ytop, kw, kh, ty, tfs, lfs):
    ov.text(x, ty, 'risk', fontsize=tfs, ha='left', va='center', color='#1A1A1A')
    for j, (col, lab) in enumerate(((HIGH_COL, 'high'), (LOW_COL, 'low'))):
        y0 = ytop + j * kh
        ov.add_patch(Rectangle((x, y0), kw, kh, facecolor=col, edgecolor=DARK, lw=1.3))
        for f in (0.22, 0.5, 0.78):
            ov.plot([x + kw * 0.2, x + kw * 0.8], [y0 + kh * f] * 2, color=DARK, lw=0.9,
                    ls=(0, (2, 1)))
        ov.text(x + kw + 5, y0 + kh / 2, lab, fontsize=lfs, ha='left', va='center',
                color='#1A1A1A')


# ---------------- scatter panels ----------------
scatter_panel(a_pts, a_core_x, (50, 65, 342, 355), (8, 63), (344, 400), [0, 25, 50, 75, 100, 125],
              ['0', '25', '50', '75', '100', '125'], 'Cytotoxicity Score',
              r'$R$ = −0.41, $p$ < 2.2e−16', 7, 9.5, 9.3)
scatter_panel(c_pts, c_core_x, (1027, 65, 1321, 354), (8, 63), (1322, 1378), [0, 0.5, 1.0],
              ['0.0', '0.5', '1.0'], 'Immune Score_XCELL',
              r'$R$ = −0.56, $p$ < 2.2e−16', 7, 9.5, 9.3)
scatter_panel(d_pts, d_core_x, (52, 460, 346, 748), (400, 458), (347, 402), [0, 0.5, 1.0, 1.5],
              ['0.0', '0.5', '1.0', '1.5'], 'TIME Score_XCELL',
              r'$R$ = −0.54, $p$ < 2.2e−16', 7, 9.5, 9.3)
scatter_panel(e_pts, e_core_x, (445, 452, 738, 741), (395, 450), (739, 795), [0, 0.05, 0.1, 0.15, 0.2],
              ['0.00', '0.05', '0.10', '0.15', '0.20'], 'Stroma Score_XCELL',
              r'$R$ = −0.018, $p$ = 0.7', 7, 9.5, 9.3)
scatter_panel(g_pts, g_core_x, (48, 843, 310, 1103), (788, 841), (311, 362), [-1000, 0, 1000, 2000, 3000],
              ['−1000', '0', '1000', '2000', '3000'], 'Immune Score_ESTIMATE',
              r'$R$ = −0.46, $p$ < 2.2e−16', 6.5, 8.5, 8.5)
scatter_panel(h_pts, h_core_x, (382, 848, 640, 1110), (798, 847), (641, 692), [-1000, 0, 1000, 2000],
              ['−1000', '0', '1000', '2000'], 'Stromal Score_ESTIMATE',
              r'$R$ = −0.24, $p$ = 3e−07', 6.5, 8.5, 8.5)
scatter_panel(i_pts, i_core_x, (719, 845, 982, 1104), (790, 844), (983, 1033), [-2500, 0, 2500, 5000],
              ['−2500', '0', '2500', '5000'], 'ESTIMATE Score',
              r'$R$ = −0.4, $p$ < 2.2e−16', 6.5, 8.5, 8.5)
scatter_panel(j_pts, j_core_x, (1062, 845, 1325, 1103), (793, 843), (1326, 1378), [0.2, 0.4, 0.6, 0.8, 1.0],
              ['0.2', '0.4', '0.6', '0.8', '1.0'], 'Tumor Purity',
              r'$R$ = 0.42, $p$ < 2.2e−16', 6.5, 8.5, 8.5)

# ---------------- violin panels ----------------
violin_panel([(b_high, b_low)], ['Cytotoxicity Score***'], [(444, 928)], (69, 357), (52, 69),
             [0, 25, 50, 75, 100, 125], ['0', '25', '50', '75', '100', '125'], 6.2, 6.2, 1.8)
ov.text(418, 213, 'Distribution levels', rotation=90, fontsize=9, ha='center', va='center')
ov.text(686, 389, 'risk', fontsize=8.5, ha='center', va='center')
legend(942, 204, 16, 17, 195, 7.5, 6.5)

violin_panel([(f_imm_high, f_imm_low), (f_str_high, f_str_low), (f_time_high, f_time_low)],
             ['Immune Score***', 'Stroma Score***', 'TIME Score***'],
             [(843, 1001), (1007, 1165), (1170, 1328)], (456, 745), (438, 456),
             [0, 0.5, 1.0, 1.5], ['0.0', '0.5', '1.0', '1.5'], 6.2, 6.2, 1.5)
ov.text(820, 600, 'Distribution levels', rotation=90, fontsize=8.5, ha='center', va='center')
ov.text(1085, 775, 'risk', fontsize=8.5, ha='center', va='center')
legend(1341, 591, 15, 17, 581, 7.5, 6.5)

violin_panel([(k_high, k_low)], ['Tumor Purity***'], [(40, 619)], (1208, 1524), (1191, 1208),
             [0.2, 0.4, 0.6, 0.8, 1.0], ['0.2', '0.4', '0.6', '0.8', '1.0'], 7.5, 7.5, 1.9)
ov.text(12, 1366, 'Distribution levels', rotation=90, fontsize=9, ha='center', va='center')
ov.text(329, 1555, 'risk', fontsize=9.5, ha='center', va='center')
legend(637, 1355, 18, 18.5, 1345, 9, 8)

violin_panel([(l_str_high, l_str_low), (l_imm_high, l_imm_low), (l_est_high, l_est_low)],
             ['Stromal Score***', 'Immune Score***', 'ESTIMATE Score***'],
             [(742, 925), (932, 1116), (1123, 1307)], (1207, 1522), (1190, 1207),
             [-2500, 0, 2500, 5000], ['−2500', '0', '2500', '5000'], 7.5, 7.5, 1.9)
ov.text(701, 1365, 'Distribution levels', rotation=90, fontsize=9, ha='center', va='center')
ov.text(1025, 1553, 'risk', fontsize=9.5, ha='center', va='center')
legend(1326, 1354, 18, 18.5, 1343, 9, 8)

# panel letters
letters = {'A': (21, 37), 'B': (397, 28), 'C': (988, 33), 'D': (30, 432), 'E': (402, 428),
           'F': (812, 432), 'G': (25, 820), 'H': (352, 820), 'I': (692, 826), 'J': (1046, 828),
           'K': (22, 1172), 'L': (712, 1172)}
for lt, (lx, ly) in letters.items():
    ov.text(lx, ly, lt, fontsize=34, ha='center', va='center', color='#1A1A1A')

fig.savefig('out.png', dpi=100, facecolor='white')
